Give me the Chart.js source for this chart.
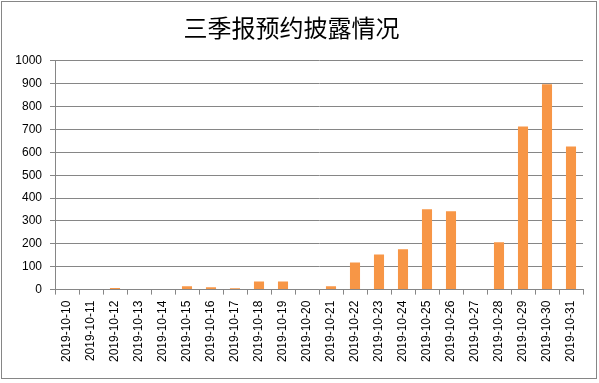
<!DOCTYPE html>
<html>
<head>
<meta charset="utf-8">
<script src="https://cdn.jsdelivr.net/npm/chart.js@4"></script>
<style>
html,body{margin:0;padding:0;background:#fff;}
#wrap{position:absolute;left:0;top:0;width:599px;height:383px;}
</style>
</head>
<body>
<div id="wrap"><canvas id="c" width="599" height="383"></canvas></div>
<script>
const titleText = '三季报预约披露情况';
const categories = ['2019-10-10','2019-10-11','2019-10-12','2019-10-13','2019-10-14','2019-10-15','2019-10-16','2019-10-17','2019-10-18','2019-10-19','2019-10-20','2019-10-21','2019-10-22','2019-10-23','2019-10-24','2019-10-25','2019-10-26','2019-10-27','2019-10-28','2019-10-29','2019-10-30','2019-10-31'];
const values = [0,0,7,0,0,15,10,6,36,36,0,15,119,154,176,351,342,0,207,713,898,626];
const yTicks = [0,100,200,300,400,500,600,700,800,900,1000];

const gridColor = '#868686';
const frame = {
  id: 'frame',
  beforeDraw(chart) {
    const ctx = chart.ctx;
    ctx.save();
    ctx.fillStyle = '#fff';
    ctx.fillRect(0, 0, chart.width, chart.height);
    ctx.strokeStyle = gridColor;
    ctx.lineWidth = 1;
    ctx.strokeRect(1.5, 1.5, 595, 377);
    ctx.restore();
  }
};

new Chart(document.getElementById('c'), {
  type: 'bar',
  data: {
    labels: categories,
    datasets: [{
      data: values,
      backgroundColor: '#F79646',
      borderWidth: 0,
      barPercentage: 0.42,
      categoryPercentage: 1
    }]
  },
  options: {
    responsive: false,
    animation: false,
    devicePixelRatio: 1,
    layout: { padding: { left: 0, right: 16, top: 0, bottom: 15 } },
    plugins: {
      legend: { display: false },
      tooltip: { enabled: false },
      title: {
        display: true,
        text: titleText,
        color: '#000',
        font: { family: '"Noto Sans CJK SC", sans-serif', size: 24, weight: 'normal', lineHeight: 1.2 },
        padding: { top: 13, bottom: 19 }
      }
    },
    scales: {
      x: {
        grid: { display: true, drawOnChartArea: false, drawTicks: true, tickLength: 5, color: gridColor, offset: true },
        border: { display: true, color: gridColor, width: 1 },
        ticks: {
          color: '#000',
          font: { family: '"Liberation Sans", Arial, sans-serif', size: 12 },
          maxRotation: 90, minRotation: 90,
          autoSkip: false,
          padding: 6
        }
      },
      y: {
        min: 0, max: 1000,
        afterBuildTicks(scale) { scale.ticks = yTicks.map(v => ({ value: v })); },
        afterFit(scale) { scale.width = 55; },
        grid: { color: gridColor, tickLength: 5, drawTicks: true },
        border: { display: true, color: gridColor, width: 1 },
        ticks: {
          color: '#000',
          font: { family: '"Liberation Sans", Arial, sans-serif', size: 12 },
          padding: 8,
          callback: (v) => String(v)
        }
      }
    }
  },
  plugins: [frame]
});
</script>
</body>
</html>
